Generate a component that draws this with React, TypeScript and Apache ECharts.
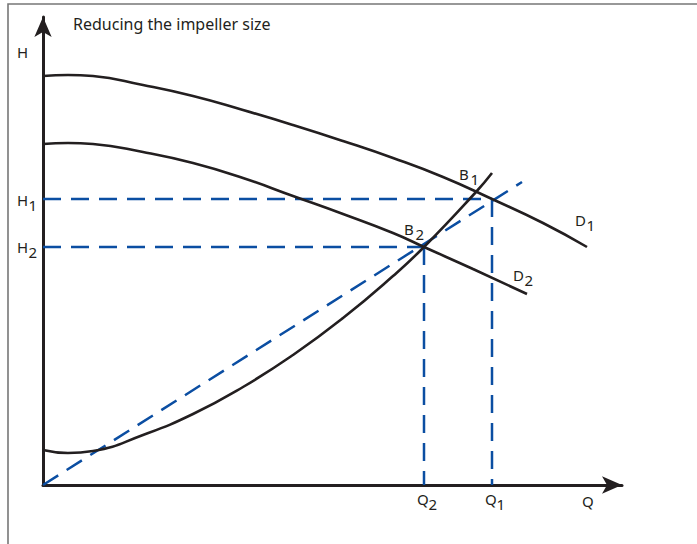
import React, { useEffect, useRef } from "react";
import * as echarts from "echarts";

// Axis extents (flow Q horizontally, head H vertically), arbitrary units
const qAxisMax = 579;
const hAxisMax = 468;

// Pump curve for full impeller diameter D1
const pumpCurveD1: [number, number][] = [
  [0, 409], [25, 410], [50, 409], [100, 400], [150, 389], [200, 375], [250, 360],
  [300, 344], [350, 327], [400, 308], [449, 286], [500, 262], [544, 238],
];
// Pump curve for reduced impeller diameter D2
const pumpCurveD2: [number, number][] = [
  [0, 341], [25, 342], [50, 341], [100, 333], [150, 322], [200, 307], [250, 289],
  [300, 271], [350, 252], [381, 238], [430, 216], [484, 191],
];
// System characteristic (parabola)
const systemCurve: [number, number][] = [
  [0, 35], [25, 32], [50, 34], [100, 50], [150, 71], [200, 98], [250, 130],
  [300, 167], [350, 209], [381, 238], [433, 293], [449, 312],
];
// Straight line through origin (proportional line)
const originLine: [number, number][] = [[0, 0], [479, 303]];

// Operating points
const Q1 = 449;
const H1 = 286;
const Q2 = 381;
const H2 = 238;
const B1: [number, number] = [433, 293];

const ink = "#231f20";
const blue = "#0b4ea2";
const font = '"Noto Sans", "DejaVu Sans", sans-serif';

export default function App() {
  const ref = useRef<HTMLDivElement>(null);

  useEffect(() => {
    if (!ref.current) return;
    const chart = echarts.init(ref.current, null, { renderer: "svg" });

    const solid = (data: [number, number][]) => ({
      type: "line",
      data,
      smooth: 0.5,
      symbol: "none",
      silent: true,
      lineStyle: { color: ink, width: 2.6 },
    });
    const dashed = (data: [number, number][]) => ({
      type: "line",
      data,
      symbol: "none",
      silent: true,
      lineStyle: { color: blue, width: 2.5, type: [18, 10] },
    });

    const axisCommon = {
      type: "value",
      min: 0,
      axisLine: {
        show: true,
        symbol: ["none", "arrow"],
        symbolSize: [13, 20],
        lineStyle: { color: ink, width: 3 },
      },
      axisTick: { show: false },
      axisLabel: { show: false },
      splitLine: { show: false },
    };

    chart.setOption({
      animation: false,
      backgroundColor: "#ffffff",
      grid: { left: 43, top: 17, right: 75, bottom: 59 },
      xAxis: { ...axisCommon, max: qAxisMax },
      yAxis: { ...axisCommon, max: hAxisMax },
      series: [
        dashed(originLine),
        dashed([[0, H1], [Q1, H1]]),
        dashed([[Q1, H1], [Q1, 0]]),
        dashed([[0, H2], [Q2, H2]]),
        dashed([[Q2, H2], [Q2, 0]]),
        solid(pumpCurveD1),
        solid(pumpCurveD2),
        solid(systemCurve),
      ],
    });

    const px = (p: [number, number]) =>
      chart.convertToPixel({ gridIndex: 0 }, p) as number[];

    const labels: any[] = [];
    const addLabel = (
      anchor: [number, number],
      dx: number,
      dy: number,
      main: string,
      sub?: string,
      size = 15
    ) => {
      const [ax, ay] = px(anchor);
      const x = ax + dx;
      const y = ay + dy;
      labels.push({
        type: "text",
        x,
        y,
        silent: true,
        style: {
          text: main,
          fill: ink,
          fontSize: size,
          fontFamily: font,
          align: "left",
          verticalAlign: "middle",
        },
      });
      if (sub) {
        labels.push({
          type: "text",
          x: x + 11.5,
          y: y + 5,
          silent: true,
          style: {
            text: sub,
            fill: ink,
            fontSize: size,
            fontFamily: font,
            align: "left",
            verticalAlign: "middle",
          },
        });
      }
    };

    addLabel([0, hAxisMax], 30, 7, "Reducing the impeller size", undefined, 16);
    addLabel([0, hAxisMax], -26, 35, "H");
    addLabel([0, H1], -26, 1, "H", "1");
    addLabel([0, H2], -26, -0.5, "H", "2");
    addLabel([Q2, 0], -7, 14, "Q", "2");
    addLabel([Q1, 0], -7, 14, "Q", "1");
    addLabel([qAxisMax, 0], -40, 16, "Q");
    addLabel(B1, -17, -18, "B", "1");
    addLabel([Q2, H2], -20, -18.5, "B", "2");
    addLabel(pumpCurveD1[pumpCurveD1.length - 1], -12, -27, "D", "1");
    addLabel(pumpCurveD2[pumpCurveD2.length - 1], -14, -19, "D", "2");

    chart.setOption({
      graphic: [
        {
          type: "polyline",
          silent: true,
          shape: { points: [[8, 544], [8, 4], [697, 4]] },
          style: { stroke: "#777777", lineWidth: 1.6, fill: "none" },
        },
        ...labels,
      ],
    });

    return () => chart.dispose();
  }, []);

  return (
    <div
      ref={ref}
      style={{ position: "fixed", left: 0, top: 0, width: 697, height: 544, background: "#fff" }}
    />
  );
}
